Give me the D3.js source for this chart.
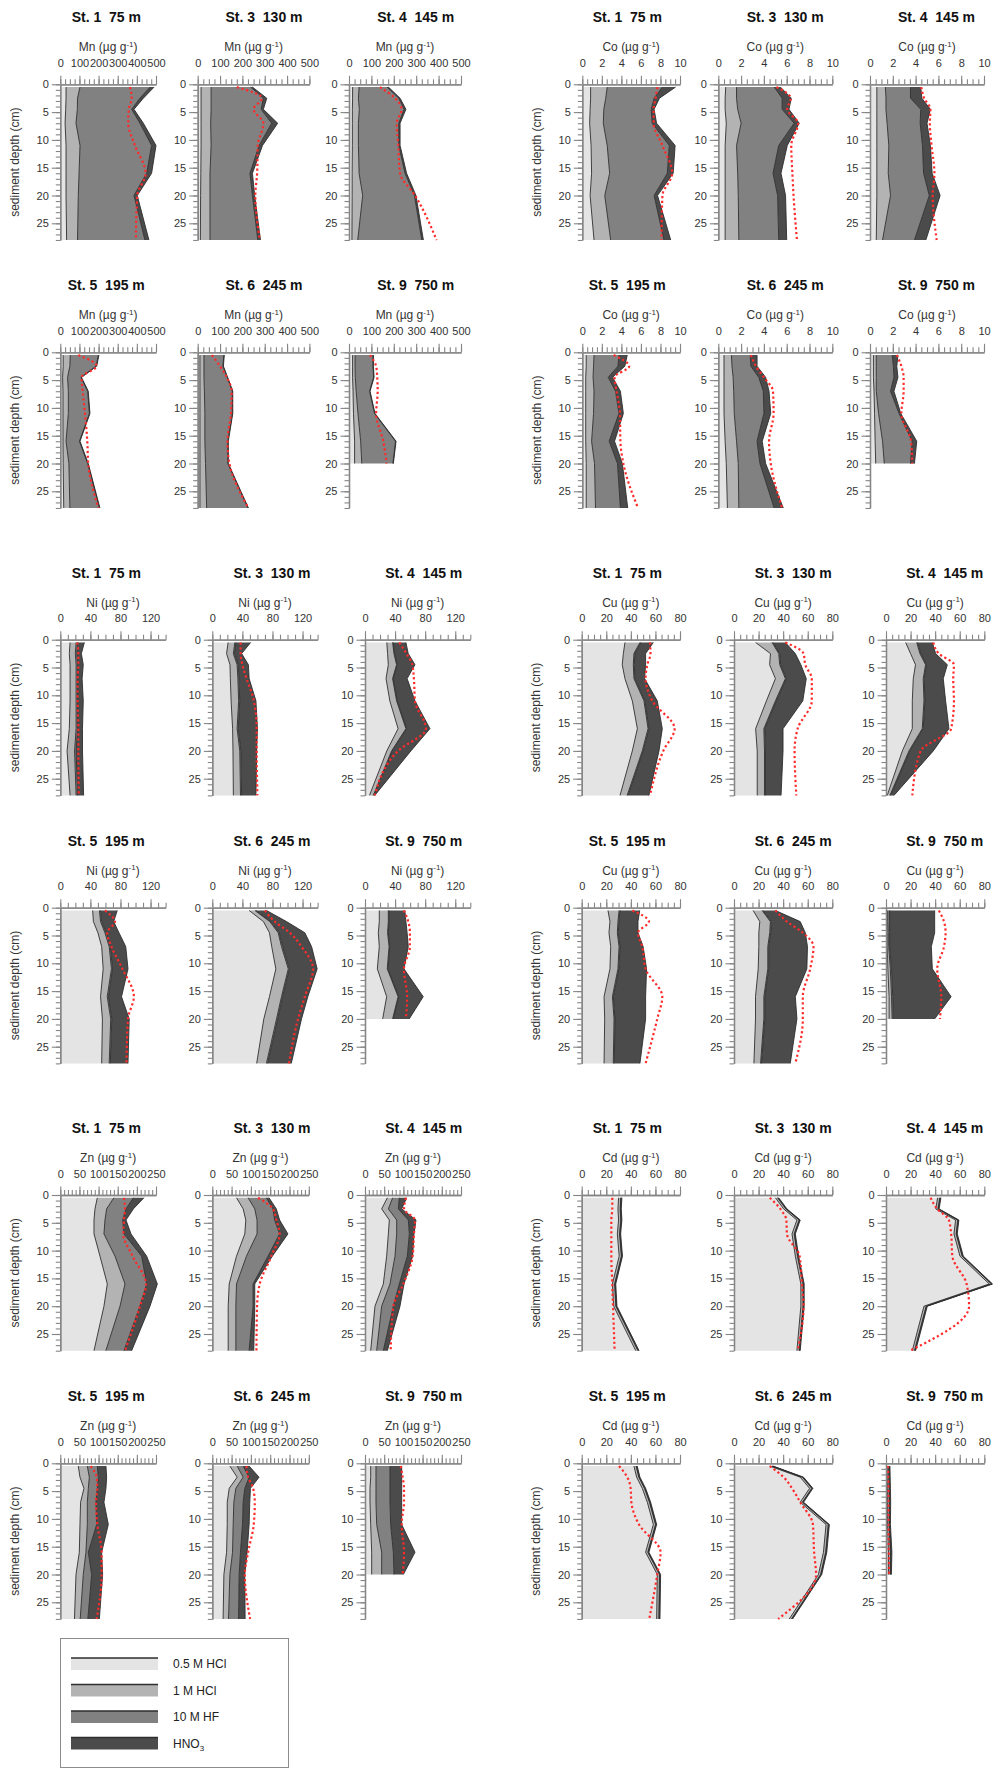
<!DOCTYPE html>
<html>
<head>
<meta charset="utf-8">
<script src="https://cdn.jsdelivr.net/npm/d3@7"></script>
<style>
  body { margin: 0; background: #fff; }
  svg text { font-family: "Liberation Sans", Arial, Helvetica, sans-serif; }
</style>
</head>
<body>
<svg id="chart" width="994" height="1769"></svg>
<script>
// Sampling depths (cm); station 9 core ends at 20 cm
const depths = [0.5, 2.5, 4.5, 7, 11, 16, 20, 28];
const depthsSt9 = [0.5, 2.5, 4.5, 7, 11, 16, 20];
const stationNames = ["St. 1  75 m", "St. 3  130 m", "St. 4  145 m",
                      "St. 5  195 m", "St. 6  245 m", "St. 9  750 m"];
const fractionNames = ["0.5 M HCl", "1 M HCl", "10 M HF", "HNO3"];
const depthTicks = [0, 5, 10, 15, 20, 25];

// Cumulative concentrations after each extraction step (µg g-1),
// one array per station in the order St.1, St.3, St.4, St.5, St.6, St.9.
// "Total" is the separately determined total concentration (red dotted).
const mnHcl05 = [
  [30, 30, 28, 25, 30, 30, 30, 33],
  [15, 15, 15, 15, 15, 14, 13, 12],
  [16, 16, 15, 15, 15, 14, 14, 13],
  [15, 15, 12, 14, 14, 14, 15, 18],
  [10, 10, 10, 10, 10, 10, 10, 10],
  [16, 16, 16, 18, 20, 25, 25]
];
const mnHcl1 = [
  [103, 90, 89, 82, 103, 98, 94, 90],
  [60, 60, 60, 58, 60, 55, 55, 55],
  [45, 42, 46, 42, 42, 45, 61, 39],
  [52, 50, 38, 42, 42, 30, 45, 50],
  [28, 28, 28, 30, 32, 32, 35, 40],
  [27, 27, 28, 32, 40, 52, 57]
];
const mnHf = [
  [469, 416, 373, 416, 477, 451, 385, 442],
  [237, 294, 284, 331, 275, 234, 245, 269],
  [170, 222, 246, 222, 222, 250, 292, 325],
  [199, 187, 108, 143, 152, 100, 143, 204],
  [117, 113, 132, 155, 155, 135, 135, 225],
  [107, 107, 110, 92, 114, 208, 196]
];
const mnHno3 = [
  [490, 434, 385, 434, 500, 477, 402, 463],
  [245, 309, 294, 358, 290, 245, 255, 281],
  [176, 228, 254, 228, 228, 257, 299, 332],
  [202, 190, 111, 146, 155, 103, 146, 207],
  [119, 115, 134, 157, 157, 137, 137, 227],
  [109, 109, 112, 94, 116, 210, 198]
];
const mnTotal = [
  [364, 373, 358, 355, 390, 446, 402, 395],
  [175, 287, 250, 294, 269, 266, 258, 278],
  [138, 205, 235, 213, 220, 228, 295, 391],
  [94, 190, 111, 117, 129, 141, 146, 199],
  [63, 100, 130, 152, 149, 133, 142, 227],
  [94, 121, 126, 128, 121, 153, 168]
];

const coHcl05 = [
  [0.85, 0.85, 0.8, 0.75, 0.9, 0.95, 0.8, 1.2],
  [0.65, 0.6, 0.6, 0.7, 0.6, 0.6, 0.6, 0.6],
  [0.6, 0.6, 0.6, 0.6, 0.6, 0.6, 0.6, 0.55],
  [0.4, 0.4, 0.35, 0.35, 0.35, 0.35, 0.4, 0.4],
  [0.5, 0.5, 0.5, 0.5, 0.5, 0.6, 0.7, 0.8],
  [0.3, 0.3, 0.3, 0.35, 0.4, 0.45, 0.5]
];
const coHcl1 = [
  [2.55, 2.4, 2.2, 2.15, 2.55, 2.8, 2.3, 2.9],
  [1.6, 1.6, 1.7, 2.0, 1.6, 1.7, 1.75, 1.8],
  [1.35, 1.4, 1.4, 1.5, 1.65, 1.6, 1.8, 1.1],
  [1.2, 1.15, 1.1, 1.2, 1.15, 0.95, 1.25, 1.35],
  [1.15, 1.2, 1.3, 1.35, 1.4, 1.6, 1.75, 1.8],
  [0.55, 0.55, 0.55, 0.55, 0.75, 1.1, 1.25]
];
const coHf = [
  [8.2, 7.35, 7.05, 7.15, 8.9, 8.7, 7.35, 8.35],
  [4.9, 5.6, 5.6, 6.65, 5.3, 4.8, 5.2, 5.3],
  [3.55, 3.55, 4.45, 4.4, 4.6, 4.7, 5.2, 3.9],
  [3.75, 3.65, 2.65, 3.4, 3.75, 2.75, 3.6, 3.9],
  [2.8, 2.85, 3.55, 3.95, 4.0, 3.4, 3.65, 4.9],
  [1.95, 2.05, 2.1, 1.8, 2.55, 3.7, 3.55]
];
const coHno3 = [
  [9.55, 7.9, 7.35, 7.6, 9.5, 9.3, 7.7, 9.05],
  [5.45, 6.4, 6.2, 7.1, 6.05, 5.5, 5.9, 6.0],
  [4.45, 4.55, 5.3, 5.0, 5.3, 5.45, 6.15, 4.9],
  [4.6, 4.35, 3.1, 3.9, 4.2, 3.3, 4.1, 4.65],
  [3.4, 3.4, 4.15, 4.45, 4.6, 3.85, 4.15, 5.7],
  [2.45, 2.35, 2.45, 2.1, 2.7, 4.1, 3.9]
];
const coTotal = [
  [7.7, 7.5, 7.3, 7.3, 8.2, 9.2, 8.2, 8.1],
  [5.1, 6.35, 6.05, 7.0, 6.4, 6.5, 6.6, 6.9],
  [4.5, 4.75, 5.3, 5.25, 5.4, 5.65, 5.5, 5.85],
  [3.2, 4.8, 3.3, 3.5, 3.85, 3.9, 4.2, 5.7],
  [2.85, 3.3, 4.0, 4.8, 4.85, 4.45, 4.6, 5.6],
  [2.35, 2.75, 2.95, 2.95, 2.75, 3.6, 3.7]
];

const niHcl05 = [
  [13, 12, 13, 13, 13, 12, 9, 13],
  [21, 19, 23.5, 24, 25, 27, 27.5, 28],
  [29, 30, 31, 28, 33, 44, 29, 6],
  [43, 44, 50, 55, 57, 53.5, 56, 55],
  [49, 68, 76, 79, 84.5, 76, 68.5, 59],
  [19, 19, 17.7, 19, 16.4, 28.8, 23.5]
];
const niHcl1 = [
  [21, 20, 21, 21, 21, 21, 19, 21],
  [30, 28, 33, 34, 35, 33, 36.5, 37.5],
  [36.7, 38.5, 42, 36.7, 42, 54.4, 35.4, 11],
  [52, 53.5, 59.3, 65, 68, 62.4, 67, 65],
  [56.6, 76.5, 87.6, 92, 101, 92, 85.4, 72],
  [31, 31, 30, 32, 29.6, 44, 36.7]
];
const niHf = [
  [23, 22, 23, 23, 23, 23, 21, 23],
  [31.5, 29.5, 34.5, 35.5, 36.5, 34.5, 38, 39],
  [37.5, 39.5, 43, 37.5, 43, 55.5, 36.5, 12],
  [53.5, 55, 61, 66.5, 69.5, 64, 68.5, 66.5],
  [58, 78, 89, 93.5, 102.5, 93.5, 87, 73.5],
  [32, 32, 31, 33, 30.6, 45, 37.7]
];
const niHno3 = [
  [32, 28, 30.5, 29, 30.5, 29.5, 29.5, 31],
  [51, 39, 48, 49, 58, 60, 59, 58],
  [54.4, 57.5, 66.4, 56, 66.4, 86.3, 61, 13],
  [75.7, 71, 78, 87, 90, 81.4, 91.6, 90],
  [72, 98.7, 123, 132, 139.4, 127, 118.6, 105],
  [53, 54.4, 56, 57.5, 51.8, 77.4, 58.8]
];
const niTotal = [
  [22.5, 24, 24, 23, 23, 24, 24, 24.5],
  [37.6, 37.6, 40, 45.6, 55.3, 59, 59, 60],
  [45.6, 55, 63, 65, 66.4, 81, 44, 13],
  [59.3, 72.6, 62.4, 68, 82.7, 97.8, 90, 88],
  [70, 83, 103, 118.6, 134, 123, 114, 102],
  [51.8, 57.5, 59.7, 59.7, 51.8, 56, 54.4]
];

const cuHcl05 = [
  [35.2, 33.9, 33, 35.2, 41.2, 45.3, 41.2, 31.2],
  [17.6, 29.7, 29, 33.7, 26.4, 17.6, 18.9, 18.9],
  [16, 20, 24, 22.2, 21.4, 21.4, 13.3, 1],
  [21.4, 23, 22.2, 23.6, 23, 18.2, 18.7, 18.2],
  [15.6, 21, 20.2, 20.2, 19.7, 17.5, 17.5, 16.2],
  [1.2, 1.2, 1, 1, 1.5, 2.5, 2.5]
];
const cuHcl1 = [
  [47.4, 42.5, 42, 42.5, 50.7, 54, 49.3, 37],
  [31, 36.4, 37.2, 41.8, 33.7, 24.3, 24.8, 24.8],
  [25, 27.6, 32.2, 30.3, 30.9, 29.5, 18.7, 3.2],
  [30.4, 29.5, 29, 30.4, 29.5, 25, 26.3, 25.7],
  [22.9, 29.6, 29.1, 27.5, 27.5, 24.3, 24.3, 21.6],
  [2.4, 2.4, 2.2, 2.2, 3.5, 4.5, 5]
];
const cuHf = [
  [48.2, 43.3, 42.8, 43.3, 51.5, 54.8, 50.1, 37.8],
  [31.8, 37.2, 38, 42.6, 34.5, 25.1, 25.6, 25.6],
  [25.8, 28.4, 33, 31.1, 31.7, 30.3, 19.5, 3.8],
  [31.2, 30.3, 29.8, 31.2, 30.3, 25.8, 27.1, 26.5],
  [23.7, 30.4, 29.9, 28.3, 28.3, 25.1, 25.1, 22.4],
  [3, 3, 3, 3, 4.5, 5.5, 6]
];
const cuHno3 = [
  [58.3, 52, 52, 51.2, 61.5, 65.6, 62.9, 54.7],
  [41.8, 49.9, 54.4, 58.8, 56, 39.9, 39.9, 38.3],
  [37.7, 40.4, 49.9, 46.6, 48.5, 51.2, 38.5, 6.5],
  [47.2, 45.8, 45.8, 50, 52.8, 52, 52, 47.4],
  [33.7, 53.9, 58, 59.8, 59.3, 49.9, 51.2, 45.8],
  [39.6, 39.6, 39.6, 36.9, 37.7, 53, 39.6]
];
const cuTotal = [
  [55.6, 56, 53.4, 52, 57.5, 75.6, 66.4, 55.6],
  [41.8, 56.6, 58, 63.3, 63.3, 51.8, 49.3, 50.7],
  [38.5, 43, 55.3, 54.7, 55.3, 53, 28.2, 21.4],
  [41.2, 54.7, 45.8, 49.3, 52, 65.6, 61.5, 52],
  [33.7, 43.1, 56, 64.7, 62, 56, 56, 49.9],
  [43, 47.2, 48.5, 47.2, 41.7, 45, 43.9]
];

const znHcl05 = [
  [96.7, 90.6, 88, 88, 103.7, 122.8, 114, 88],
  [62.7, 79.9, 86.8, 84.2, 62.7, 43.8, 41.2, 41.2],
  [58.2, 43.4, 63.4, 60.8, 56.4, 47.7, 26, 14.8],
  [47, 51.4, 61.8, 53, 51.4, 49.7, 41, 37],
  [45.5, 64.4, 43.8, 38.7, 38.7, 37, 30, 28],
  [14.8, 14.8, 13, 13, 14.8, 17.4, 17.4]
];
const znHcl1 = [
  [140, 121, 116.7, 114, 142.9, 169, 156, 119],
  [92.8, 110, 116, 116, 88.5, 62.7, 61, 61],
  [72, 60.8, 82.5, 82.5, 78.1, 65.1, 43.4, 30.4],
  [70.6, 75.8, 73.2, 70.6, 70.6, 67, 60, 52],
  [64.4, 79.9, 61, 55.8, 54.1, 52.4, 45.5, 42],
  [28.6, 28.6, 28.6, 28.6, 30.4, 43.4, 43.4]
];
const znHf = [
  [190.8, 171.6, 163, 166.4, 212.5, 225.6, 208, 166.4],
  [140, 157.2, 161.5, 174.4, 144.3, 105.7, 105.7, 95.4],
  [89.4, 86.8, 112.8, 115.5, 110.2, 89.4, 73.8, 47.7],
  [96.7, 99.3, 96.7, 93.2, 95, 73.2, 81.9, 72],
  [79.9, 95.4, 84.2, 79.9, 78.2, 73, 69.6, 68],
  [65.1, 65.1, 65.1, 65.1, 66.8, 73.8, 75.5]
];
const znHno3 = [
  [218.6, 190.8, 171.6, 184.7, 225.6, 253.5, 234.3, 186.4],
  [147, 165.8, 174.4, 195.9, 155.5, 110, 110, 107.4],
  [108.5, 95.5, 132.8, 127.6, 124.1, 101.6, 91.1, 58.2],
  [119.3, 121, 119.3, 114, 125.4, 108, 110.6, 102],
  [95.4, 121.1, 98.8, 97.1, 95.4, 90.2, 84.2, 85],
  [95.5, 95.5, 95.5, 95.5, 95.5, 130.2, 99.8]
];
const znTotal = [
  [166.4, 169, 166.4, 164.6, 189, 223.9, 208, 169],
  [118.6, 157.2, 165.8, 174.4, 153, 122.9, 116, 114.3],
  [106.8, 101.6, 130.2, 127.6, 124.1, 99.8, 73.8, 66.8],
  [79.3, 95, 96.7, 93.2, 96.7, 108, 108, 95],
  [88.5, 92.8, 105.7, 110, 107.4, 92.8, 84.2, 98],
  [92.9, 98.1, 101.6, 101.6, 95.5, 101.6, 98.1]
];

const cdHcl05 = [
  [30, 29.5, 30, 29, 30.5, 25, 26, 44],
  [33.7, 40.4, 51.2, 47.2, 49.9, 54.4, 54.4, 51.2],
  [42, 40.5, 56.6, 55.3, 60.2, 84, 30.9, 21.4],
  [42.5, 44.7, 49.3, 53.4, 58.3, 52, 61.5, 61],
  [29.1, 53.9, 61.5, 53.9, 74.9, 72.8, 68.7, 45],
  [1, 1, 1.2, 1.2, 1.2, 2, 2]
];
const cdHcl1 = [
  [31.8, 31.3, 31.8, 30.8, 32.3, 26.8, 27.8, 45.8],
  [35.5, 42.2, 53, 49, 51.7, 56.2, 56.2, 53],
  [43.8, 42.3, 58.4, 57.1, 62, 85.8, 32.7, 23.2],
  [44.3, 46.5, 51.1, 55.2, 60.1, 53.8, 63.3, 62.8],
  [30.9, 55.7, 63.3, 55.7, 76.7, 74.6, 70.5, 46.8],
  [2.2, 2.3, 2.5, 2.6, 2.5, 3.6, 3.4]
];
const cdHf = [
  [32.1, 31.6, 32.1, 31.1, 32.6, 27.1, 28.1, 46.1],
  [35.8, 42.5, 53.3, 49.3, 52, 56.5, 56.5, 53.3],
  [44.1, 42.6, 58.7, 57.4, 62.3, 86.1, 33, 23.5],
  [44.6, 46.8, 51.4, 55.5, 60.4, 54.1, 63.6, 63.1],
  [31.2, 56, 63.6, 56, 77, 74.9, 70.8, 47.1],
  [2.5, 2.6, 2.8, 2.9, 2.8, 3.9, 3.7]
];
const cdHno3 = [
  [32.7, 32.2, 32.7, 31.7, 33.2, 27.7, 28.7, 46.7],
  [36.4, 43.1, 53.9, 49.9, 52.6, 57.1, 57.1, 53.9],
  [44.7, 43.2, 59.3, 58, 62.9, 86.7, 33.6, 24.1],
  [45.2, 47.4, 52, 56.1, 61, 54.7, 64.2, 63.7],
  [31.8, 56.6, 64.2, 56.6, 77.6, 75.5, 71.4, 47.7],
  [3.2, 3.4, 3.6, 3.8, 3.6, 4.8, 4.4]
];
const cdTotal = [
  [24.9, 24.9, 24.1, 24.1, 24.1, 24.9, 25.5, 26.8],
  [29.1, 37.7, 42.6, 43.1, 53.4, 55.3, 56.6, 51.8],
  [36.3, 41.7, 51.2, 53, 54, 65.6, 67.6, 19.5],
  [30.4, 37.1, 39.8, 40.4, 46.6, 64.2, 61.5, 55],
  [29.1, 40.4, 47.2, 53.9, 64.2, 65.2, 66.8, 36],
  [1.5, 1.8, 2, 2, 2, 2.2, 2.5]
];

// ---- panel geometry and axis settings per element ----
const elements = [
  { name: "Mn", max: 500, major: 100, minor: 25, series: [mnHcl05, mnHcl1, mnHf, mnHno3], total: mnTotal,
    lefts: [60.3, 197.7, 349], widths: [95.7, 111.7, 112], titleX: [106.3, 264, 415.7], rowY: [84.3, 352.3], ylabX: 15 },
  { name: "Co", max: 10, major: 2, minor: 0.5, series: [coHcl05, coHcl1, coHf, coHno3], total: coTotal,
    lefts: [582.3, 718.3, 870], widths: [97.7, 114, 114], titleX: [627.3, 785.2, 936.5], rowY: [84.3, 352.3], ylabX: 536.7 },
  { name: "Ni", max: 140, major: 40, minor: 10, series: [niHcl05, niHcl1, niHf, niHno3], total: niTotal,
    lefts: [60.3, 212.3, 365], widths: [105.3, 105.3, 105.3], titleX: [106.3, 272, 423.8], rowY: [639.7, 907.7], ylabX: 15 },
  { name: "Cu", max: 80, major: 20, minor: 5, series: [cuHcl05, cuHcl1, cuHf, cuHno3], total: cuTotal,
    lefts: [581.7, 734, 886], widths: [98.3, 98.3, 98.3], titleX: [627.3, 793.2, 944.8], rowY: [639.7, 907.7], ylabX: 536 },
  { name: "Zn", max: 250, major: 50, minor: 10, series: [znHcl05, znHcl1, znHf, znHno3], total: znTotal,
    lefts: [60.3, 212.3, 365], widths: [95.7, 96.5, 96], titleX: [106.3, 272, 423.8], rowY: [1195, 1463.3], ylabX: 15 },
  { name: "Cd", max: 80, major: 20, minor: 5, series: [cdHcl05, cdHcl1, cdHf, cdHno3], total: cdTotal,
    lefts: [581.7, 734, 886], widths: [98.3, 98.3, 98.3], titleX: [627.3, 793.2, 944.8], rowY: [1195, 1463.3], ylabX: 536 }
];

const fills = ["#e4e4e4", "#b3b3b3", "#818181", "#4b4b4b"];
const edgeColor = "#2e2e2e";
const axisColor = "#858585";
const totalColor = "#ff2b2b";
const pxPerCm = 5.56;
const depthMax = 28;

const svg = d3.select("#chart");

function styleAxis(g) {
  g.selectAll("path.domain").attr("stroke", axisColor).attr("stroke-width", 1.3);
  g.selectAll(".tick line").attr("stroke", axisColor).attr("stroke-width", 1.1);
  g.selectAll(".tick text").attr("fill", "#333").attr("font-size", 11)
    .attr("font-family", "'Liberation Sans', Arial, sans-serif");
}

function drawPanel(el, si, c, axisY) {
  const left = el.lefts[c], width = el.widths[c];
  const x = d3.scaleLinear().domain([0, el.max]).range([left, left + width]);
  const y = d3.scaleLinear().domain([0, depthMax]).range([axisY, axisY + depthMax * pxPerCm]);
  const dep = si === 5 ? depthsSt9 : depths;
  const g = svg.append("g");

  // stacked extraction fractions
  const series = el.series.map(s => s[si]);
  series.forEach((s, k) => {
    const prev = k === 0 ? null : series[k - 1];
    const pts = dep.map((d, i) => ({ d, x0: prev ? prev[i] : 0, x1: s[i] }));
    g.append("path")
      .attr("d", d3.area().y(p => y(p.d)).x0(p => x(p.x0)).x1(p => x(p.x1))(pts))
      .attr("fill", fills[k]);
  });
  series.forEach(s => {
    const pts = dep.map((d, i) => ({ d, v: s[i] }));
    g.append("path")
      .attr("d", d3.line().y(p => y(p.d)).x(p => x(p.v))(pts))
      .attr("fill", "none").attr("stroke", edgeColor).attr("stroke-width", 0.9);
  });

  // total concentration
  const tot = el.total[si].map((v, i) => ({ d: dep[i], v }));
  g.append("path")
    .attr("d", d3.line().y(p => y(p.d)).x(p => x(p.v)).curve(d3.curveMonotoneY)(tot))
    .attr("fill", "none").attr("stroke", totalColor).attr("stroke-width", 2.2)
    .attr("stroke-dasharray", "2.2,2.6");

  // top value axis
  const majors = d3.range(0, el.max + 1e-9, el.major);
  const minors = d3.range(0, el.max + 1e-9, el.minor);
  const gMinX = g.append("g").attr("transform", `translate(0,${axisY})`)
    .call(d3.axisTop(x).tickValues(minors).tickSize(5).tickSizeOuter(0).tickFormat(""));
  styleAxis(gMinX);
  const gMajX = g.append("g").attr("transform", `translate(0,${axisY})`)
    .call(d3.axisTop(x).tickValues(majors).tickSize(8.5).tickSizeOuter(0).tickPadding(9).tickFormat(d3.format("d")));
  styleAxis(gMajX);

  // left depth axis
  const gMinY = g.append("g").attr("transform", `translate(${left},0)`)
    .call(d3.axisLeft(y).tickValues(d3.range(0, depthMax + 1)).tickSize(4.5).tickSizeOuter(0).tickFormat(""));
  styleAxis(gMinY);
  const gMajY = g.append("g").attr("transform", `translate(${left},0)`)
    .call(d3.axisLeft(y).tickValues(depthTicks).tickSize(8.5).tickSizeOuter(0).tickPadding(3));
  styleAxis(gMajY);

  // unit label
  const u = g.append("text").attr("x", left + width / 2).attr("y", axisY - 33)
    .attr("text-anchor", "middle").attr("font-size", 12).attr("fill", "#333");
  u.append("tspan").text(`${el.name} (µg g`);
  u.append("tspan").attr("dy", -4.5).attr("font-size", 8).text("-1");
  u.append("tspan").attr("dy", 4.5).text(")");

  // station title
  g.append("text").attr("x", el.titleX[c]).attr("y", axisY - 62)
    .attr("text-anchor", "middle").attr("font-size", 14).attr("font-weight", "bold")
    .attr("fill", "#111").style("white-space", "pre").text(stationNames[si]);

  // depth label on the first column
  if (c === 0) {
    g.append("text")
      .attr("transform", `translate(${el.ylabX},${axisY + depthMax * pxPerCm / 2}) rotate(-90)`)
      .attr("text-anchor", "middle").attr("dy", "0.35em")
      .attr("font-size", 12).attr("fill", "#333").text("sediment depth (cm)");
  }
}

elements.forEach(el => {
  el.rowY.forEach((axisY, r) => {
    for (let c = 0; c < 3; c++) drawPanel(el, r * 3 + c, c, axisY);
  });
});

// ---- legend ----
const leg = svg.append("g");
leg.append("rect").attr("x", 60.5).attr("y", 1638.5).attr("width", 228).attr("height", 129)
  .attr("fill", "none").attr("stroke", "#8c8c8c").attr("stroke-width", 1);
fractionNames.forEach((name, i) => {
  const ly = 1658 + i * 26.5;
  leg.append("rect").attr("x", 71).attr("y", ly).attr("width", 87).attr("height", 12).attr("fill", fills[i]);
  leg.append("line").attr("x1", 71).attr("x2", 158).attr("y1", ly).attr("y2", ly)
    .attr("stroke", edgeColor).attr("stroke-width", 1.6);
  const t = leg.append("text").attr("x", 173).attr("y", ly + 10).attr("font-size", 12).attr("fill", "#222");
  if (name === "HNO3") {
    t.append("tspan").text("HNO");
    t.append("tspan").attr("dy", 3).attr("font-size", 8).text("3");
  } else {
    t.text(name);
  }
});
</script>
</body>
</html>
